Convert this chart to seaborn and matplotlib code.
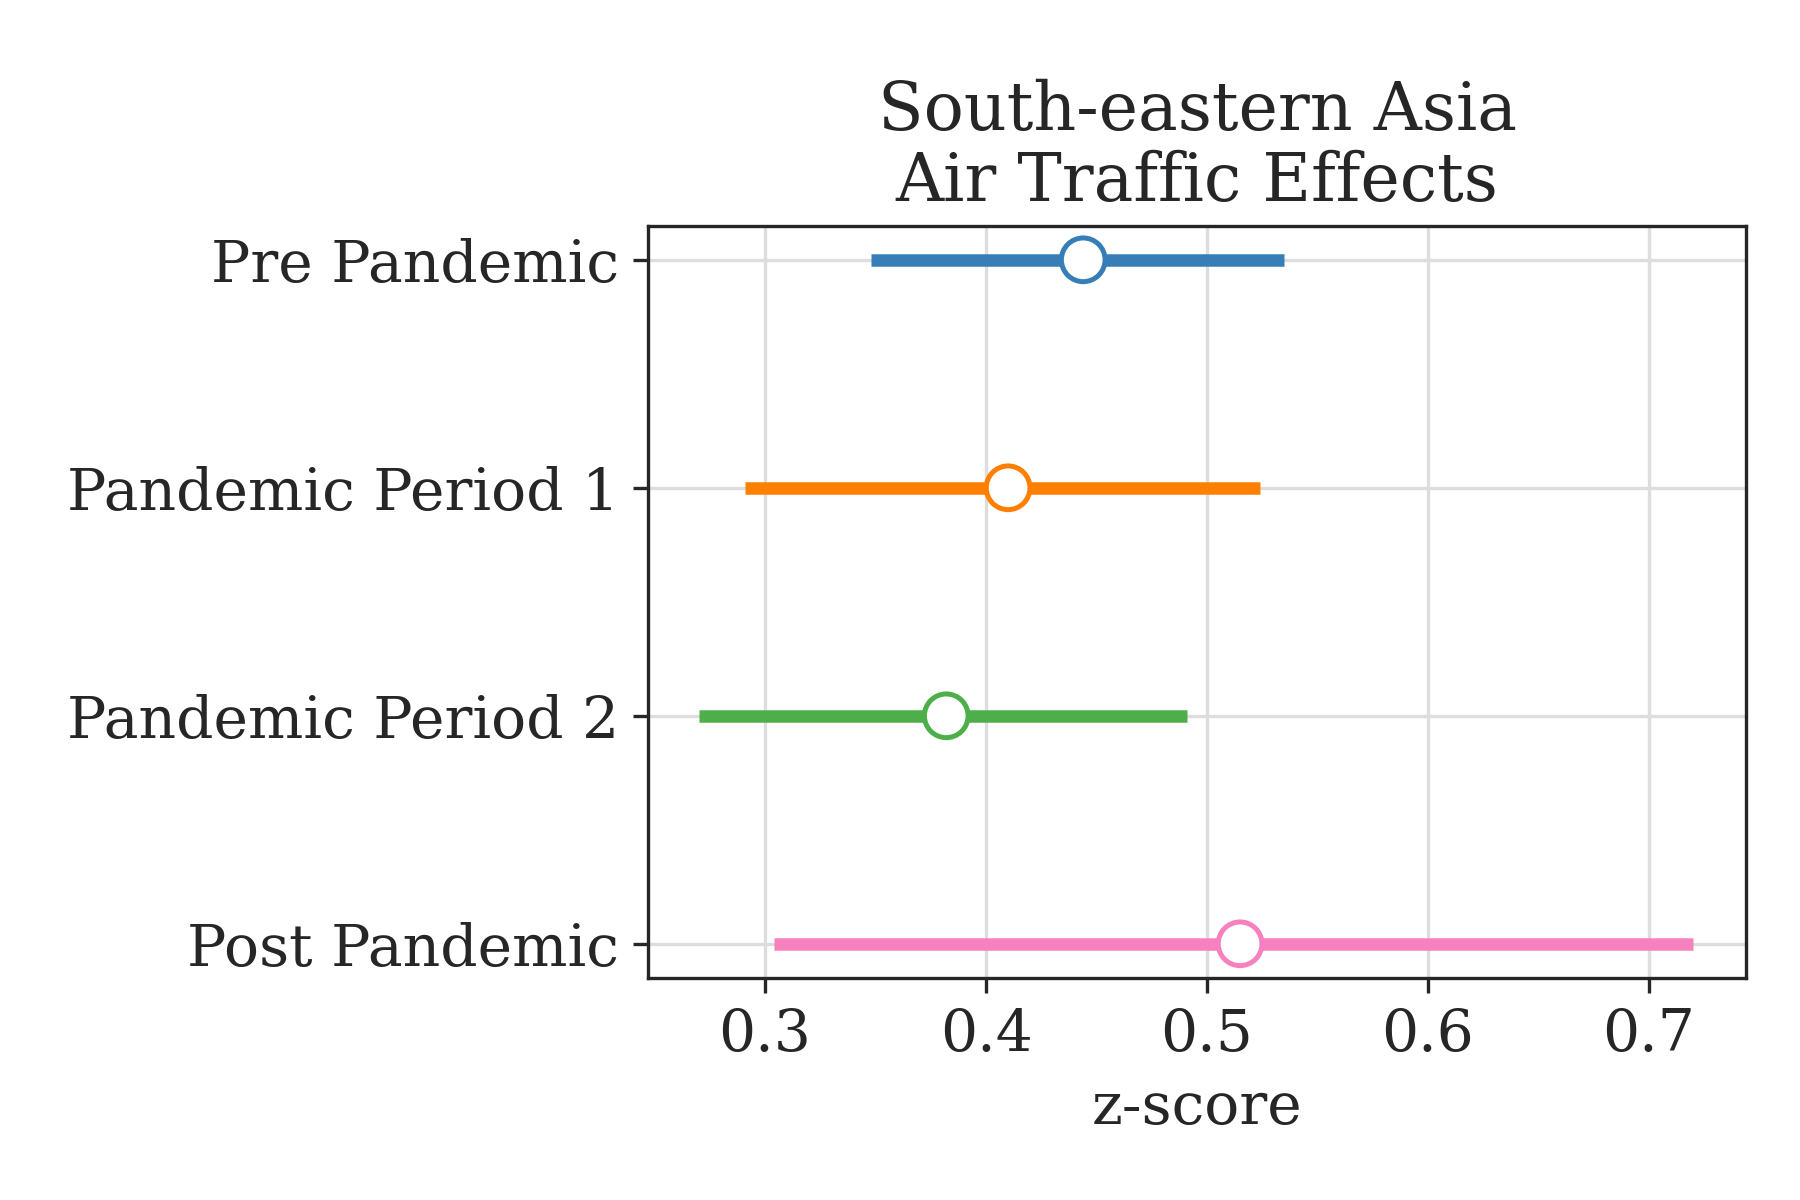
import matplotlib
matplotlib.use("Agg")
import matplotlib.pyplot as plt
import seaborn as sns
import pandas as pd

periods = ["Pre Pandemic", "Pandemic Period 1", "Pandemic Period 2", "Post Pandemic"]
estimate = [0.444, 0.410, 0.382, 0.515]
lower = [0.348, 0.291, 0.270, 0.304]
upper = [0.535, 0.524, 0.491, 0.720]
colors = ["#377eb8", "#ff7f00", "#4daf4a", "#f781bf"]

df = pd.DataFrame({"period": periods, "est": estimate, "lo": lower, "hi": upper})

sns.set_style("ticks")
plt.rcParams["font.family"] = ["DejaVu Serif"]

fig, ax = plt.subplots(figsize=(6, 4), dpi=300)
fig.subplots_adjust(left=0.36, right=0.97, top=0.812, bottom=0.185)

for i, row in df.iterrows():
    ax.plot([row.lo, row.hi], [i, i], color=colors[i], lw=3, solid_capstyle="butt", zorder=2)
sns.scatterplot(data=df, x="est", y="period", hue="period", palette=colors, ax=ax,
                s=110, facecolor="white", legend=False, zorder=3, linewidth=1.2)
for coll in ax.collections:
    coll.set_facecolor("white")
    coll.set_edgecolor(colors)

ax.set_xlim(0.247, 0.744)
ax.set_ylim(3.15, -0.15)
ax.set_xticks([0.3, 0.4, 0.5, 0.6, 0.7])
ax.grid(True, color="#dddddd", lw=0.8)
ax.set_axisbelow(True)
ax.tick_params(labelsize=14)
ax.set_ylabel("")
ax.set_xlabel("z-score", fontsize=14)
ax.set_title("South-eastern Asia\nAir Traffic Effects", fontsize=16, linespacing=1.1)
for s in ax.spines.values():
    s.set_linewidth(0.8)

fig.savefig("out.png", dpi=300)
